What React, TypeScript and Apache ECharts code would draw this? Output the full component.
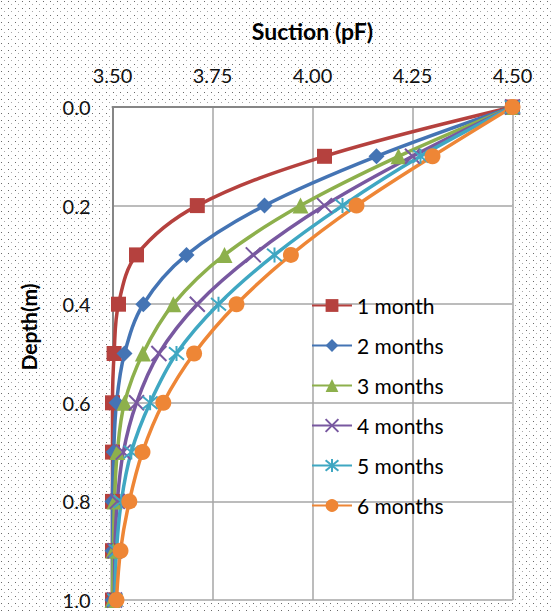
import React, { useEffect, useRef } from "react";
import * as echarts from "echarts";

// Depth below surface (m) and suction (pF) profiles after 1–6 months
const depths = [0, 0.1, 0.2, 0.3, 0.4, 0.5, 0.6, 0.7, 0.8, 0.9, 1.0];
const month1 = [4.5, 4.03, 3.712, 3.56, 3.515, 3.504, 3.5, 3.5, 3.5, 3.5, 3.5];
const month2 = [4.5, 4.16, 3.88, 3.685, 3.577, 3.53, 3.51, 3.503, 3.5, 3.5, 3.5];
const month3 = [4.5, 4.215, 3.97, 3.78, 3.652, 3.576, 3.53, 3.512, 3.505, 3.502, 3.5];
const month4 = [4.5, 4.25, 4.03, 3.852, 3.712, 3.616, 3.56, 3.527, 3.512, 3.506, 3.505];
const month5 = [4.5, 4.27, 4.075, 3.905, 3.765, 3.66, 3.594, 3.547, 3.522, 3.51, 3.506];
const month6 = [4.5, 4.3, 4.11, 3.946, 3.81, 3.704, 3.627, 3.575, 3.542, 3.52, 3.51];

const seriesNames = ["1 month", "2 months", "3 months", "4 months", "5 months", "6 months"];
const seriesValues = [month1, month2, month3, month4, month5, month6];
const colors = ["#B5413E", "#4474B4", "#8DB04C", "#7858A0", "#3FA7C2", "#EE8636"];

const xTicks = { min: 3.5, max: 4.5, step: 0.25 };
const yTicks = { min: 0, max: 1, step: 0.2 };

const crossPath = "path://M0,0L10,10M10,0L0,10";
const starPath = "path://M0,0L10,10M10,0L0,10M5,-1L5,11";

const symbols = [
  { symbol: "rect", size: 15 },
  { symbol: "diamond", size: 16 },
  { symbol: "triangle", size: 16 },
  { symbol: crossPath, size: 15 },
  { symbol: starPath, size: 15 },
  { symbol: "circle", size: 16 },
];

const dotPattern =
  "url(\"data:image/svg+xml;utf8," +
  encodeURIComponent(
    "<svg xmlns='http://www.w3.org/2000/svg' width='7' height='7'>" +
      "<rect width='7' height='7' fill='#ffffff'/>" +
      "<rect x='1' y='1' width='1' height='1' fill='#6a6a6a'/>" +
      "<rect x='4' y='4' width='1' height='1' fill='#a8a8a8'/>" +
      "</svg>"
  ) +
  "\")";

const FONT = "Lato, 'Noto Sans', sans-serif";

export default function App() {
  const ref = useRef<HTMLDivElement>(null);

  useEffect(() => {
    if (!ref.current) return;
    const chart = echarts.init(ref.current, null, { renderer: "svg" });

    const series = seriesValues.map((vals, i) => {
      const stroked = i === 3 || i === 4;
      return {
        name: seriesNames[i],
        type: "line",
        data: vals.map((v, k) => [v, depths[k]]),
        smooth: 0.35,
        symbol: symbols[i].symbol,
        symbolSize: symbols[i].size,
        showAllSymbol: true,
        clip: false,
        lineStyle: { color: colors[i], width: 3.5 },
        itemStyle: stroked
          ? { color: "rgba(0,0,0,0)", borderColor: colors[i], borderWidth: 2 }
          : { color: colors[i] },
        emphasis: { disabled: true },
      };
    });

    chart.setOption({
      animation: false,
      backgroundColor: "transparent",
      textStyle: { fontFamily: FONT },
      grid: {
        left: 112.5,
        right: 38.5,
        top: 107,
        bottom: 13,
        show: true,
        backgroundColor: "#ffffff",
        borderWidth: 0,
      },
      legend: {
        orient: "vertical",
        left: 311,
        top: 295,
        padding: 0,
        itemWidth: 40,
        itemHeight: 16,
        itemGap: 19,
        textStyle: { fontFamily: FONT, fontSize: 21, color: "#000", lineHeight: 20 },
        data: seriesNames,
      },
      xAxis: {
        type: "value",
        position: "top",
        min: xTicks.min,
        max: xTicks.max,
        interval: xTicks.step,
        name: "Suction (pF)",
        nameLocation: "middle",
        nameGap: 65,
        nameTextStyle: { fontFamily: FONT, fontSize: 23, fontWeight: "bold", color: "#000" },
        axisLine: { show: true, lineStyle: { color: "#868686", width: 2 } },
        axisTick: { show: false },
        axisLabel: {
          fontFamily: FONT,
          fontSize: 20,
          color: "#111",
          margin: 22,
          formatter: (v: number) => v.toFixed(2),
        },
        splitLine: { show: true, lineStyle: { color: "#a6a6a6", width: 1.5 } },
      },
      yAxis: {
        type: "value",
        inverse: true,
        min: yTicks.min,
        max: yTicks.max,
        interval: yTicks.step,
        axisLine: { show: true, lineStyle: { color: "#868686", width: 2 } },
        axisTick: { show: false },
        axisLabel: {
          fontFamily: FONT,
          fontSize: 20,
          color: "#111",
          margin: 22,
          formatter: (v: number) => v.toFixed(1),
        },
        splitLine: { show: true, lineStyle: { color: "#a6a6a6", width: 1.5 } },
      },
      graphic: [
        {
          type: "text",
          x: 28,
          y: 327,
          rotation: Math.PI / 2,
          style: {
            text: "Depth(m)",
            fontFamily: FONT,
            fontSize: 21,
            fontWeight: "bold",
            fill: "#000",
            textAlign: "center",
            textVerticalAlign: "middle",
          },
        },
      ],
      series,
    });

    return () => chart.dispose();
  }, []);

  return (
    <div
      ref={ref}
      style={{
        position: "absolute",
        left: 0,
        top: 0,
        width: 551,
        height: 613,
        backgroundImage: dotPattern,
      }}
    />
  );
}
